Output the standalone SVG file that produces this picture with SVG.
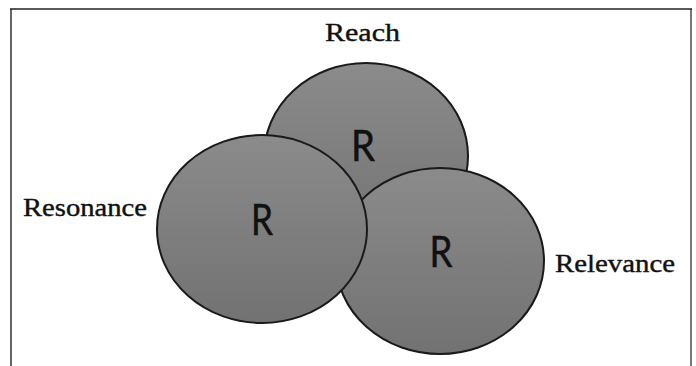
<svg xmlns="http://www.w3.org/2000/svg" width="696" height="366" viewBox="0 0 696 366">
  <defs>
    <linearGradient id="g" x1="0" y1="0" x2="0" y2="1">
      <stop offset="0" stop-color="#8b8b8b"/>
      <stop offset="1" stop-color="#727272"/>
    </linearGradient>
    <style>
      .c { fill: url(#g); stroke: #1a1a1a; stroke-width: 2; }
      .lbl { font-family: "Liberation Serif", "Times New Roman", serif; font-size: 26px; fill: #111; stroke: #111; stroke-width: 0.4; }
      .r { font-family: Lato, "Open Sans", sans-serif; font-size: 42px; fill: #111; stroke: #111; stroke-width: 0.5; text-anchor: middle; }
    </style>
  </defs>
  <rect x="0" y="0" width="696" height="366" fill="#fff"/>
  <g id="frame">
    <line x1="11" y1="9" x2="11" y2="366" stroke="#666" stroke-width="2"/>
    <line x1="691" y1="9" x2="691" y2="366" stroke="#777" stroke-width="2"/>
    <line x1="10" y1="9" x2="692" y2="9" stroke="#222" stroke-width="1.5"/>
  </g>
  <g id="connectors"></g>
  <g id="reach">
    <ellipse class="c" cx="366" cy="156" rx="102" ry="93"/>
    <text class="r" x="363" y="161" textLength="24" lengthAdjust="spacingAndGlyphs">R</text>
    <text class="lbl" x="325" y="41" textLength="75" lengthAdjust="spacingAndGlyphs">Reach</text>
  </g>
  <g id="relevance">
    <ellipse class="c" cx="440" cy="261" rx="104" ry="93"/>
    <text class="r" x="441" y="267" textLength="23" lengthAdjust="spacingAndGlyphs">R</text>
    <text class="lbl" x="555" y="272" textLength="120" lengthAdjust="spacingAndGlyphs">Relevance</text>
  </g>
  <g id="resonance">
    <ellipse class="c" cx="262" cy="229" rx="105" ry="94"/>
    <text class="r" x="262" y="235" textLength="22" lengthAdjust="spacingAndGlyphs">R</text>
    <text class="lbl" x="23" y="216" textLength="124" lengthAdjust="spacingAndGlyphs">Resonance</text>
  </g>
</svg>
